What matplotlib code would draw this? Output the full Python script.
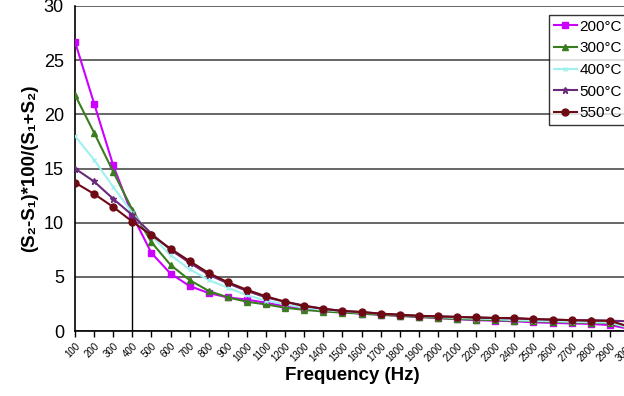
import matplotlib
matplotlib.use("Agg")
import matplotlib.pyplot as plt

plt.rcParams["font.family"] = ["Liberation Sans", "DejaVu Sans"]

freqs = list(range(100, 3001, 100))
labels = [str(f) for f in freqs]

s200 = [26.7, 21.0, 15.3, 10.7, 7.2, 5.3, 4.15, 3.5, 3.1, 2.9, 2.6, 2.3, 2.1, 1.9, 1.75,
        1.6, 1.5, 1.4, 1.3, 1.2, 1.1, 1.0, 0.95, 0.9, 0.8, 0.75, 0.7, 0.65, 0.55, 0.2]
s300 = [21.8, 18.3, 14.7, 11.2, 8.2, 6.1, 4.7, 3.7, 3.1, 2.7, 2.45, 2.15, 1.95, 1.8, 1.7,
        1.6, 1.5, 1.4, 1.3, 1.2, 1.1, 1.05, 1.0, 0.95, 0.9, 0.85, 0.8, 0.75, 0.72, 0.3]
s400 = [18.0, 15.8, 13.3, 10.9, 8.8, 7.0, 5.7, 4.7, 4.0, 3.3, 2.8, 2.45, 2.15, 1.95, 1.8,
        1.7, 1.6, 1.5, 1.4, 1.3, 1.2, 1.15, 1.1, 1.0, 0.95, 0.9, 0.85, 0.8, 0.78, 0.3]
s500 = [15.0, 13.8, 12.2, 10.7, 9.0, 7.5, 6.3, 5.2, 4.4, 3.7, 3.1, 2.7, 2.35, 2.05, 1.85,
        1.75, 1.6, 1.5, 1.4, 1.35, 1.3, 1.25, 1.2, 1.15, 1.1, 1.05, 1.0, 1.0, 0.95, 0.9]
s550 = [13.7, 12.65, 11.45, 10.1, 8.85, 7.6, 6.45, 5.35, 4.5, 3.8, 3.2, 2.7, 2.3, 2.05, 1.85,
        1.75, 1.6, 1.5, 1.4, 1.35, 1.3, 1.25, 1.2, 1.2, 1.1, 1.05, 1.0, 0.95, 0.95, 0.4]

series = [
    ("200°C", s200, "#CC00FF", "s", 4),
    ("300°C", s300, "#3A7D1E", "^", 5),
    ("400°C", s400, "#A0F0F0", "x", 3.5),
    ("500°C", s500, "#6A2A7A", "*", 5),
    ("550°C", s550, "#6E0A14", "o", 5),
]

fig = plt.figure(figsize=(6.24, 3.96), dpi=100)
ax = fig.add_axes([75/624, 65/396, (629-75)/624, (331-6)/396])

x = list(range(len(freqs)))
for name, vals, col, mk, ms in series:
    ax.plot(x, vals, color=col, marker=mk, markersize=ms, linewidth=1.5,
            label=name, markeredgecolor=col, markerfacecolor=col, zorder=3)

# vertical marker line at 400 Hz
ax.plot([3, 3], [0, 10.1], color="black", linewidth=1.0, zorder=2)

ax.set_xlim(0, len(freqs) - 1)
ax.set_ylim(0, 30)
ax.set_yticks(range(0, 31, 5))
ax.yaxis.grid(True, color="#666666", linewidth=1.4)
ax.set_axisbelow(True)
ax.set_xticks(x)
ax.set_xticklabels(labels, rotation=45, ha="right", rotation_mode="anchor", fontsize=7)
ax.tick_params(axis="x", length=4, width=1, pad=3)
ax.tick_params(axis="y", length=0, labelsize=13, pad=8)
for s in ["top", "right"]:
    ax.spines[s].set_visible(False)
ax.spines["left"].set_linewidth(1.2)
ax.spines["bottom"].set_linewidth(1.2)

ax.set_xlabel("Frequency (Hz)", fontsize=13.5, fontweight="bold", labelpad=3)
ax.set_ylabel("(S\u2082-S\u2081)*100/(S\u2081+S\u2082)", fontsize=13.5, fontweight="bold", labelpad=4)

leg = ax.legend(loc="upper left", bbox_to_anchor=(549/624, 1 - 15/396), bbox_transform=fig.transFigure,
                fontsize=11, frameon=True, fancybox=False, edgecolor="black",
                handlelength=1.5, handletextpad=0.2, borderpad=0.3, labelspacing=0.5,
                borderaxespad=0)
leg.get_frame().set_linewidth(1.0)

fig.savefig("out.png", dpi=100)
